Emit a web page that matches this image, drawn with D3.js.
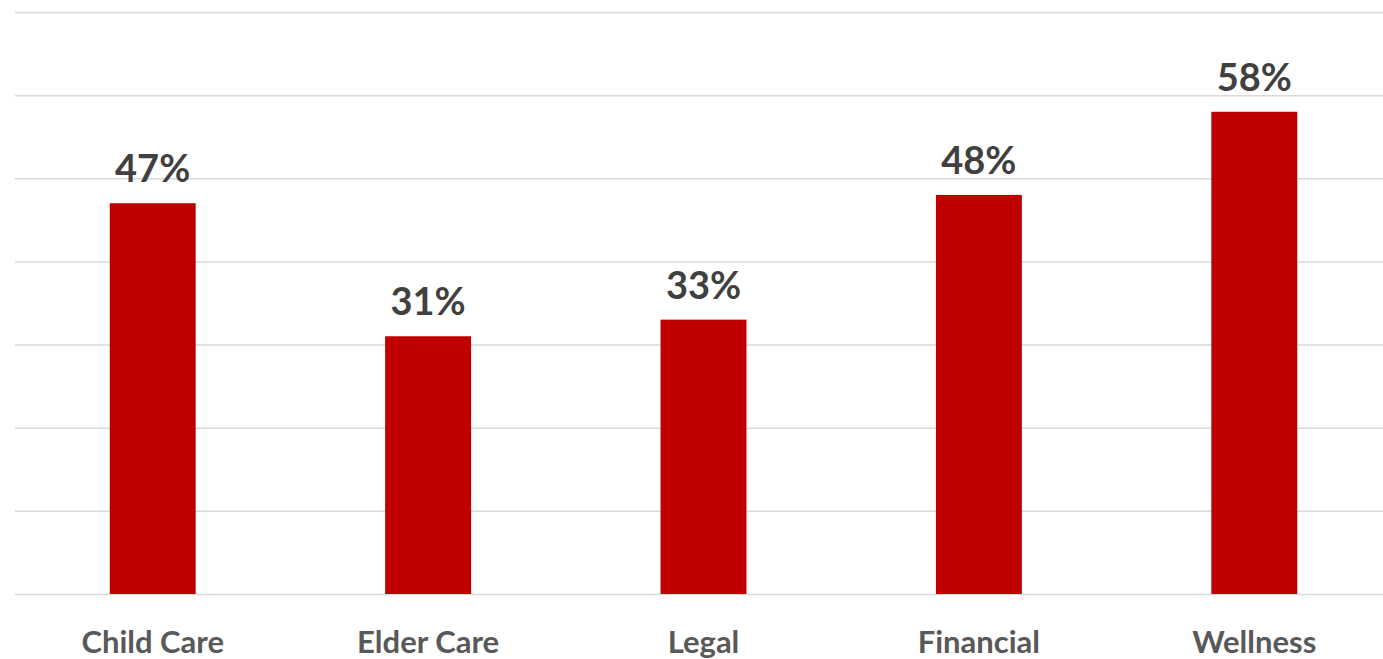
<!DOCTYPE html>
<meta charset="utf-8">
<style>
  body { margin: 0; background: #fff; }
  .grid line { stroke: #d9d9d9; stroke-width: 1.5; }
  .grid .domain { display: none; }
</style>
<body>
<script src="https://d3js.org/d3.v7.min.js"></script>
<script>
  var categories = ["Child Care", "Elder Care", "Legal", "Financial", "Wellness"];
  var values = [47, 31, 33, 48, 58];
  var yTicks = [0, 10, 20, 30, 40, 50, 60, 70];

  var W = 1383, H = 659;
  var mLeft = 15, mRight = 1392, mTop = 12, mBottom = 594;

  var svg = d3.select("body").append("svg")
    .attr("width", W)
    .attr("height", H);

  var x = d3.scaleBand()
    .domain(categories)
    .range([mLeft, mRight])
    .paddingInner(0.688)
    .paddingOuter(0.344);

  var y = d3.scaleLinear()
    .domain([0, 70])
    .range([mBottom, mTop]);

  // gridlines
  svg.append("g")
    .attr("class", "grid")
    .attr("transform", "translate(" + mLeft + ",0)")
    .call(d3.axisLeft(y).tickValues(yTicks).tickSize(-(W - mLeft)).tickFormat(""));

  svg.append("g").selectAll("rect")
    .data(values)
    .enter().append("rect")
    .attr("x", function (d, i) { return x(categories[i]); })
    .attr("width", x.bandwidth())
    .attr("y", function (d) { return y(d); })
    .attr("height", function (d) { return y(0) - y(d); })
    .attr("fill", "#c00000");

  svg.append("g").selectAll("text")
    .data(values)
    .enter().append("text")
    .attr("x", function (d, i) { return x(categories[i]) + x.bandwidth() / 2; })
    .attr("y", function (d) { return y(d) - 21; })
    .attr("text-anchor", "middle")
    .attr("font-family", "Lato, 'Open Sans', sans-serif")
    .attr("font-weight", "bold")
    .attr("font-size", 38)
    .attr("fill", "#404040")
    .text(function (d) { return d + "%"; });

  svg.append("g").selectAll("text")
    .data(categories)
    .enter().append("text")
    .attr("x", function (d) { return x(d) + x.bandwidth() / 2; })
    .attr("y", 653)
    .attr("text-anchor", "middle")
    .attr("font-family", "Lato, 'Open Sans', sans-serif")
    .attr("font-weight", "bold")
    .attr("font-size", 31)
    .attr("fill", "#595959")
    .text(function (d) { return d; });
</script>
</body>
